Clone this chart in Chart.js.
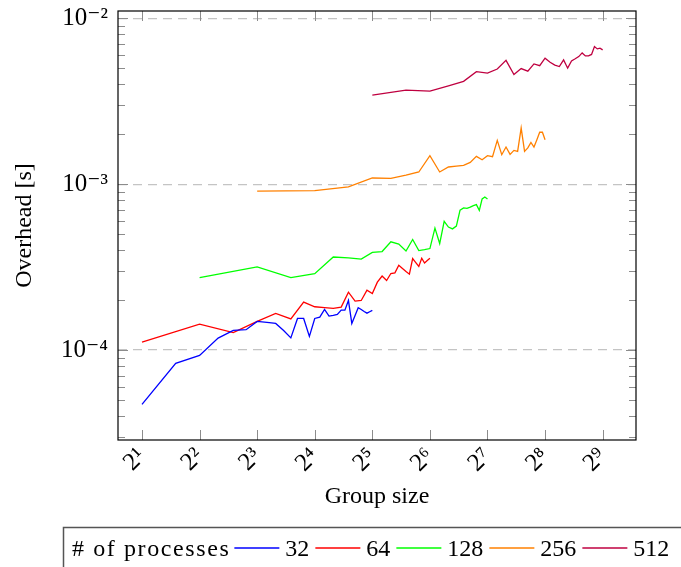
<!DOCTYPE html>
<html lang="en">
<head>
<meta charset="UTF-8">
<title>Overhead vs group size</title>
<script src="https://cdn.jsdelivr.net/npm/chart.js"></script>
<style>
  html, body { margin: 0; padding: 0; background: #fff; }
  #wrap { width: 681px; height: 567px; }
</style>
</head>
<body>
<div id="wrap"><canvas id="overheadChart" width="681" height="567"></canvas></div>
<script>
// group sizes (x) per process count
const sizes32 = [2, 3, 4, 5, 6, 7, 8, 9, 10, 11, 12, 13, 14, 15, 16, 17, 18, 19, 20, 21, 22, 23, 24, 25, 26, 27, 28, 29, 30, 31, 32];
const sizes64 = [2, 4, 6, 8, 10, 12, 14, 16, 18, 20, 22, 24, 26, 28, 30, 32, 34, 36, 38, 40, 42, 44, 46, 48, 50, 52, 54, 56, 58, 60, 62, 64];
const sizes128 = [4, 8, 12, 16, 20, 24, 28, 32, 36, 40, 44, 48, 52, 56, 60, 64, 68, 72, 76, 80, 84, 88, 92, 96, 100, 104, 108, 112, 116, 120, 124, 128];
const sizes256 = [8, 16, 24, 32, 40, 48, 56, 64, 72, 80, 88, 96, 104, 112, 120, 128, 136, 144, 152, 160, 168, 176, 184, 192, 200, 208, 216, 224, 232, 240, 248, 256];
const sizes512 = [32, 48, 64, 80, 96, 112, 128, 144, 160, 176, 192, 208, 224, 240, 256, 272, 288, 304, 320, 336, 352, 368, 384, 400, 416, 432, 448, 464, 480, 496, 512];

// overhead in seconds
const overhead32 = [4.71e-5, 8.32e-5, 9.29e-5, 1.181e-4, 1.313e-4, 1.326e-4, 1.488e-4, 1.468e-4, 1.447e-4, 1.313e-4,
  1.184e-4, 1.551e-4, 1.551e-4, 1.209e-4, 1.551e-4, 1.579e-4, 1.757e-4, 1.601e-4, 1.617e-4, 1.640e-4,
  1.740e-4, 1.740e-4, 1.991e-4, 1.447e-4, 1.617e-4, 1.799e-4, 1.757e-4, 1.709e-4, 1.669e-4, 1.702e-4, 1.733e-4];
const overhead64 = [1.117e-4, 1.433e-4, 1.273e-4, 1.488e-4, 1.663e-4, 1.540e-4, 1.945e-4, 1.824e-4, 1.802e-4, 1.782e-4,
  1.814e-4, 2.234e-4, 1.972e-4, 1.991e-4, 2.296e-4, 2.194e-4, 2.565e-4, 2.795e-4, 2.627e-4, 2.893e-4,
  2.922e-4, 3.242e-4, 3.101e-4, 2.974e-4, 2.866e-4, 3.562e-4, 3.370e-4, 3.189e-4, 3.576e-4, 3.347e-4, 3.465e-4, 3.576e-4];
const overhead128 = [2.737e-4, 3.175e-4, 2.737e-4, 2.885e-4, 3.637e-4, 3.592e-4, 3.537e-4, 3.882e-4, 3.926e-4, 4.496e-4,
  4.355e-4, 3.953e-4, 4.636e-4, 3.981e-4, 4.025e-4, 4.092e-4, 5.435e-4, 4.385e-4, 5.972e-4, 5.511e-4,
  5.375e-4, 5.588e-4, 6.977e-4, 7.193e-4, 7.143e-4, 7.273e-4, 7.426e-4, 7.530e-4, 6.957e-4, 8.146e-4, 8.375e-4, 8.146e-4];
const overhead256 = [9.075e-4, 9.139e-4, 9.620e-4, 1.0896e-3, 1.0836e-3, 1.134e-3, 1.184e-3, 1.484e-3, 1.184e-3, 1.269e-3,
  1.283e-3, 1.297e-3, 1.352e-3, 1.470e-3, 1.404e-3, 1.484e-3, 1.464e-3, 1.835e-3, 1.505e-3, 1.675e-3,
  1.511e-3, 1.598e-3, 1.576e-3, 2.179e-3, 1.576e-3, 1.654e-3, 1.785e-3, 1.675e-3, 1.853e-3, 2.055e-3, 2.055e-3, 1.853e-3];
const overhead512 = [3.440e-3, 3.687e-3, 3.641e-3, 3.914e-3, 4.166e-3, 4.765e-3, 4.674e-3, 4.940e-3, 5.573e-3, 4.577e-3,
  4.975e-3, 4.799e-3, 5.309e-3, 5.179e-3, 5.745e-3, 5.435e-3, 5.215e-3, 5.115e-3, 5.612e-3, 5.002e-3,
  5.534e-3, 5.697e-3, 5.875e-3, 6.182e-3, 5.931e-3, 5.931e-3, 6.055e-3, 6.748e-3, 6.535e-3, 6.599e-3, 6.446e-3];

const seriesLabels = ['32', '64', '128', '256', '512'];
const seriesColors = ['#0000ff', '#ff0000', '#00ff00', '#ff8000', '#bf0040'];
const legendTitle = '# of processes';

const xTickValues = [2, 4, 8, 16, 32, 64, 128, 256, 512];
const xTickLabels = ['2¹', '2²', '2³', '2⁴', '2⁵', '2⁶', '2⁷', '2⁸', '2⁹'];
const yTickValues = [1e-4, 1e-3, 1e-2];
const yTickLabels = ['10⁻⁴', '10⁻³', '10⁻²'];
const yMinorTicks = [3e-5, 4e-5, 5e-5, 6e-5, 7e-5, 8e-5, 9e-5,
  2e-4, 3e-4, 4e-4, 5e-4, 6e-4, 7e-4, 8e-4, 9e-4,
  2e-3, 3e-3, 4e-3, 5e-3, 6e-3, 7e-3, 8e-3, 9e-3];

const FONT = '"Liberation Serif", "DejaVu Serif", serif';

const pairs = (xs, ys) => xs.map((x, i) => ({ x: x, y: ys[i] }));
const allSizes = [sizes32, sizes64, sizes128, sizes256, sizes512];
const allOverhead = [overhead32, overhead64, overhead128, overhead256, overhead512];

// frame round the plot and pgfplots-like inward ticks
const frameTicks = {
  id: 'frameTicks',
  afterDatasetsDraw(chart) {
    const { ctx, chartArea: a, scales: { x, y } } = chart;
    ctx.save();
    ctx.strokeStyle = '#8c8c8c';
    ctx.lineWidth = 1;
    ctx.beginPath();
    xTickValues.forEach(v => {
      const px = Math.round(x.getPixelForValue(v)) + 0.5;
      ctx.moveTo(px, a.bottom); ctx.lineTo(px, a.bottom - 10);
      ctx.moveTo(px, a.top); ctx.lineTo(px, a.top + 10);
    });
    yMinorTicks.forEach(v => {
      const py = Math.round(y.getPixelForValue(v)) + 0.5;
      ctx.moveTo(a.left, py); ctx.lineTo(a.left + 7, py);
      ctx.moveTo(a.right, py); ctx.lineTo(a.right - 7, py);
    });
    yTickValues.forEach(v => {
      const py = Math.round(y.getPixelForValue(v)) + 0.5;
      ctx.moveTo(a.left, py); ctx.lineTo(a.left + 10, py);
      ctx.moveTo(a.right, py); ctx.lineTo(a.right - 10, py);
    });
    ctx.stroke();
    ctx.strokeStyle = '#000';
    ctx.lineWidth = 1.2;
    ctx.strokeRect(a.left, a.top, a.width, a.height);
    ctx.restore();
  }
};

// legend in a box below the plot, all on one row
const boxLegend = {
  id: 'boxLegend',
  afterDraw(chart) {
    const ctx = chart.ctx;
    const y = 548;
    ctx.save();
    ctx.strokeStyle = '#555';
    ctx.lineWidth = 1.5;
    ctx.strokeRect(63.5, 527.5, 700, 100);
    ctx.font = '24px ' + FONT;
    ctx.fillStyle = '#000';
    ctx.textBaseline = 'middle';
    ctx.letterSpacing = '1.6px';
    ctx.fillText(legendTitle, 72, y + 2);
    let x = 72 + ctx.measureText(legendTitle).width + 4;
    ctx.letterSpacing = '0px';
    chart.data.datasets.forEach(ds => {
      ctx.strokeStyle = ds.borderColor;
      ctx.lineWidth = 1.3;
      ctx.beginPath();
      ctx.moveTo(x, y); ctx.lineTo(x + 45, y);
      ctx.stroke();
      x += 51;
      ctx.fillText(ds.label, x, y + 2);
      x += ctx.measureText(ds.label).width + 6;
    });
    ctx.restore();
  }
};

const ctx = document.getElementById('overheadChart').getContext('2d');
new Chart(ctx, {
  type: 'line',
  data: {
    datasets: seriesLabels.map((label, i) => ({
      label: label,
      data: pairs(allSizes[i], allOverhead[i]),
      borderColor: seriesColors[i],
      backgroundColor: seriesColors[i],
      borderWidth: 1.3,
      pointRadius: 0,
      tension: 0,
      fill: false
    }))
  },
  options: {
    responsive: false,
    animation: false,
    events: [],
    layout: { padding: { top: 11, right: 45, bottom: 56, left: 0 } },
    plugins: {
      legend: { display: false },
      tooltip: { enabled: false }
    },
    scales: {
      x: {
        type: 'logarithmic',
        min: 1.498,
        max: 765,
        afterBuildTicks: s => { s.ticks = xTickValues.map(v => ({ value: v })); },
        afterFit: s => { s.height = 71; s.paddingLeft = 0; s.paddingRight = 0; },
        grid: { display: false, drawTicks: false },
        border: { display: false },
        ticks: {
          autoSkip: false,
          minRotation: 45,
          maxRotation: 45,
          padding: 2,
          color: '#000',
          font: { family: FONT, size: 25 },
          callback: (v, i) => xTickLabels[i]
        },
        title: {
          display: true,
          text: 'Group size',
          color: '#000',
          font: { family: FONT, size: 24 },
          padding: 0
        }
      },
      y: {
        type: 'logarithmic',
        min: 2.87e-5,
        max: 1.106e-2,
        afterBuildTicks: s => { s.ticks = yTickValues.map(v => ({ value: v })); },
        afterFit: s => { s.width = 118; s.paddingTop = 0; s.paddingBottom = 0; },
        grid: { color: '#c4c4c4', lineWidth: 1.2, drawTicks: false },
        border: { display: false, dash: [9, 6] },
        ticks: {
          padding: 10,
          color: '#000',
          font: { family: FONT, size: 25 },
          callback: (v, i) => yTickLabels[i]
        },
        title: {
          display: true,
          text: 'Overhead [s]',
          color: '#000',
          font: { family: FONT, size: 24 },
          padding: { top: 10, bottom: 0 }
        }
      }
    }
  },
  plugins: [frameTicks, boxLegend]
});
</script>
</body>
</html>
